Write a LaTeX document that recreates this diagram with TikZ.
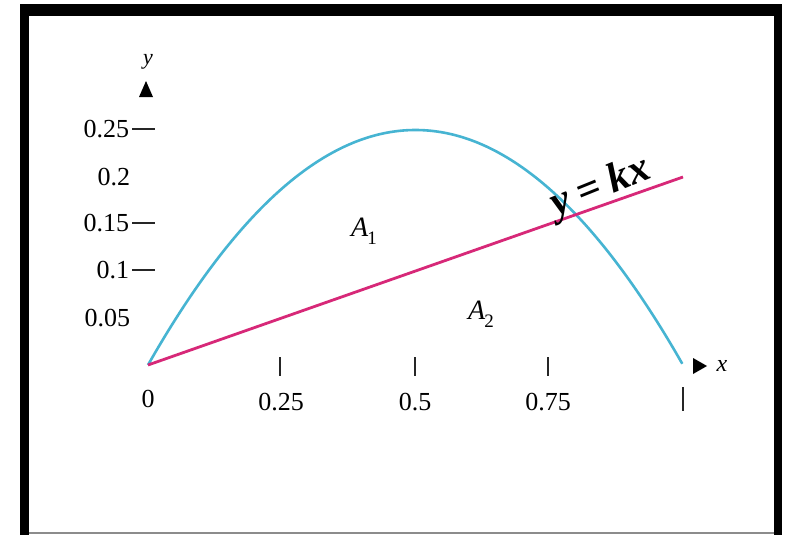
\documentclass[tikz,border=0pt]{standalone}
\usepackage{fontspec}
\setmainfont{Liberation Serif}
\begin{document}
\begin{tikzpicture}[x=1pt,y=-1pt,
  every node/.style={inner sep=0pt,outer sep=0pt},
  ticklab/.style={font=\fontsize{26}{26}\selectfont},
  framebar/.style={fill=black,draw=none},
  tickmark/.style={draw=black!85,line width=2pt},
  arrowhead/.style={fill=black,draw=none}]
\definecolor{curvecol}{RGB}{70,180,210}
\definecolor{linecol}{RGB}{215,40,120}
\useasboundingbox[fill=white] (0,0) rectangle (792,535);
% frame
\fill[framebar] (20,4) rectangle (29,535);
\fill[framebar] (774,4) rectangle (782,535);
\fill[framebar] (20,4) rectangle (782,16);
\fill[black!45] (29,531.5) rectangle (774,534);
% curves in data coordinates
\begin{scope}[shift={(148pt,-365pt)},x=535pt,y=940pt]
  \coordinate (O) at (0,0);
  \coordinate (L) at (1,0.2);
  \draw[curvecol,line width=2.6pt] plot[domain=0:1,samples=120,smooth] (\x,{\x*(1-\x)});
  \draw[linecol,line width=2.8pt] (O) -- (L);
\end{scope}
% axes arrowheads
\fill[arrowhead] (139,97) -- (153,97) -- (146,81) -- cycle;
\node[font=\fontsize{22}{22}\selectfont\itshape] (ylab) at (148,62) {y};
\fill[arrowhead] (693,358) -- (693,374) -- (707,366) -- cycle;
\node[font=\fontsize{24}{24}\selectfont\itshape] (xlab) at (722,366) {x};
% y tick labels
\node[ticklab,anchor=east] (y25) at (129,129) {0.25};
\node[ticklab,anchor=east] (y20) at (130,177) {0.2};
\node[ticklab,anchor=east] (y15) at (129,223) {0.15};
\node[ticklab,anchor=east] (y10) at (129,270) {0.1};
\node[ticklab,anchor=east] (y05) at (130,318) {0.05};
\draw[tickmark] (132,129) -- (155,129);
\draw[tickmark] (132,223) -- (155,223);
\draw[tickmark] (132,270) -- (155,270);
% x ticks and labels
\foreach \xx in {280,415,548} \draw[tickmark] (\xx,357) -- (\xx,376);
\draw[tickmark] (683,387) -- (683,411);
\node[ticklab] (x0) at (148,399) {0};
\node[ticklab] (x25) at (281,402) {0.25};
\node[ticklab] (x50) at (415,402) {0.5};
\node[ticklab] (x75) at (548,402) {0.75};
% region labels
\node[font=\fontsize{28}{28}\selectfont\itshape] (A1) at (364,231) {A\kern-1pt\raisebox{-0.28em}{\fontsize{19}{19}\selectfont\upshape 1}};
\node[font=\fontsize{28}{28}\selectfont\itshape] (A2) at (481,314) {A\kern-1pt\raisebox{-0.28em}{\fontsize{19}{19}\selectfont\upshape 2}};
% equation label
\node[rotate=22,font=\fontsize{42}{42}\selectfont\bfseries\itshape] (eq) at (601,188) {y\kern0.22em=\kern0.22em kx};
\end{tikzpicture}
\end{document}
